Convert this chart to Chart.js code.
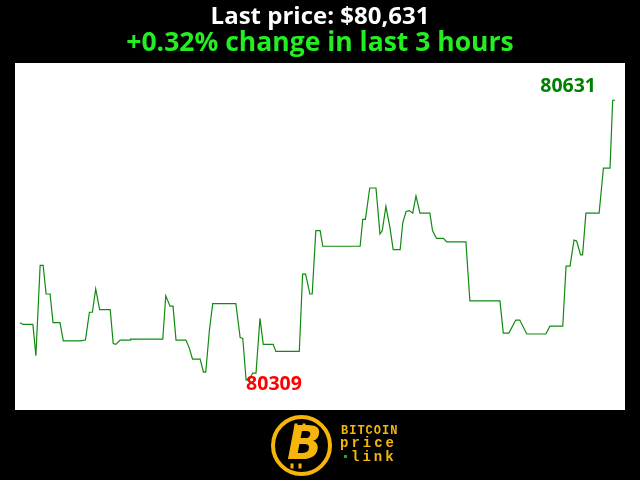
<!DOCTYPE html>
<html>
<head>
<meta charset="utf-8">
<title>Bitcoin price, last 3 hours</title>
<script src="https://cdn.jsdelivr.net/npm/chart.js@4.4.1/dist/chart.umd.min.js"></script>
<style>
  html, body { margin: 0; padding: 0; background: #000; }
  #wrap { width: 640px; height: 480px; position: relative; }
</style>
</head>
<body>
<div id="wrap"><canvas id="chart" width="640" height="480"></canvas></div>
<script>
// ===== Data (minutes since start, price in USD) =====
const minutes = [
  0, 0.9, 3.9, 4.8, 6.1, 7.0, 7.9, 9.1, 10.0, 12.1,
  13.1, 18.2, 19.8, 21.0, 21.9, 22.9, 24.1, 27.3, 28.2, 29.0,
  30.3, 33.3, 33.5, 43.2, 44.1, 45.4, 46.3, 47.2, 50.2, 51.2,
  52.2, 54.5, 55.5, 56.2, 57.3, 58.3, 65.3, 66.6, 67.4, 68.4,
  69.4, 70.4, 71.4, 72.6, 73.6, 76.6, 77.4, 84.5, 85.5, 86.4,
  87.7, 88.4, 89.5, 90.8, 91.6, 102.9, 103.7, 104.5, 105.8, 107.7,
  108.9, 109.6, 110.7, 111.9, 112.9, 115.0, 115.8, 116.8, 117.8, 118.8,
  119.8, 121.0, 124.0, 124.8, 126.0, 128.1, 129.1, 134.9, 136.1, 145.2,
  146.2, 147.9, 150.0, 151.2, 153.3, 159.1, 160.3, 164.2, 165.2, 166.4,
  167.6, 168.4, 169.6, 170.2, 171.2, 175.2, 176.5, 178.5, 179.3, 180
];
const prices = [
  80375, 80373, 80373, 80337, 80441, 80441, 80408, 80408, 80375, 80375,
  80354, 80354, 80355, 80387, 80387, 80414, 80390, 80390, 80351, 80350,
  80355, 80355, 80356, 80356, 80406, 80394, 80394, 80355, 80355, 80346,
  80333, 80333, 80318, 80318, 80366, 80397, 80397, 80358, 80357, 80309,
  80310, 80317, 80317, 80380, 80350, 80350, 80342, 80342, 80431, 80431,
  80408, 80408, 80481, 80481, 80463, 80463, 80494, 80494, 80530, 80530,
  80477, 80481, 80509, 80485, 80459, 80459, 80490, 80503, 80504, 80501,
  80521, 80501, 80501, 80481, 80472, 80472, 80468, 80468, 80400, 80400,
  80363, 80363, 80378, 80378, 80362, 80362, 80371, 80371, 80440, 80440,
  80470, 80469, 80453, 80453, 80501, 80501, 80553, 80553, 80631, 80631
];
const titleText = "Last price: $80,631";
const subtitleText = "+0.32% change in last 3 hours";
const logoLines = ["BITCOIN", "price", "link"];

const points = minutes.map((m, i) => ({ x: m, y: prices[i] }));
const lastIdx = prices.length - 1;
const minIdx = prices.indexOf(Math.min(...prices));

// ===== Plugins =====
const plotBg = {
  id: 'plotBg',
  beforeDraw(chart) {
    const { ctx, chartArea: a } = chart;
    ctx.save();
    ctx.fillStyle = '#000';
    ctx.fillRect(0, 0, chart.width, chart.height);
    ctx.fillStyle = '#fff';
    ctx.fillRect(a.left, a.top, a.right - a.left, a.bottom - a.top);
    ctx.restore();
  }
};

const priceLabels = {
  id: 'priceLabels',
  afterDatasetsDraw(chart) {
    const { ctx } = chart;
    const meta = chart.getDatasetMeta(0);
    const hi = meta.data[lastIdx], lo = meta.data[minIdx];
    ctx.save();
    ctx.font = 'bold 19.5px "Open Sans"';
    ctx.textBaseline = 'alphabetic';
    ctx.fillStyle = '#008000';
    ctx.textAlign = 'right';
    ctx.fillText(String(prices[lastIdx]), hi.x - 19, hi.y - 8);
    ctx.fillStyle = '#ff0000';
    ctx.textAlign = 'left';
    ctx.fillText(String(prices[minIdx]), lo.x, lo.y + 10);
    ctx.restore();
  }
};

const logo = {
  id: 'logo',
  afterDraw(chart) {
    const { ctx } = chart;
    const orange = '#f5b50a';
    const cx = 301.5, cy = 445.5;
    ctx.save();
    // ring
    ctx.strokeStyle = orange;
    ctx.lineWidth = 4;
    ctx.beginPath();
    ctx.arc(cx, cy, 28.5, 0, Math.PI * 2);
    ctx.stroke();
    // slanted B with bars
    ctx.fillStyle = orange;
    ctx.font = 'italic bold 46px "DejaVu Sans"';
    ctx.textAlign = 'center';
    ctx.textBaseline = 'middle';
    ctx.fillText('B', cx + 3, cy + 2);
    ctx.fillRect(cx - 7, cy - 22, 3, 6);
    ctx.fillRect(cx + 1, cy - 22, 3, 6);
    ctx.fillRect(cx - 11, cy + 18, 3, 5);
    ctx.fillRect(cx - 3, cy + 18, 3, 5);
    // text block
    ctx.textAlign = 'left';
    ctx.textBaseline = 'alphabetic';
    ctx.font = 'bold 12px "Liberation Mono"';
    ctx.letterSpacing = '1px';
    ctx.fillText(logoLines[0], 341, 434);
    ctx.font = 'bold 14px "Liberation Mono"';
    ctx.letterSpacing = '3px';
    ctx.fillText(logoLines[1], 340, 447);
    ctx.fillText(logoLines[2], 351, 461);
    ctx.fillStyle = '#1faa1f';
    ctx.fillRect(344, 455, 3, 3);
    ctx.restore();
  }
};

// ===== Chart =====
new Chart(document.getElementById('chart').getContext('2d'), {
  type: 'line',
  data: {
    datasets: [{
      data: points,
      borderColor: '#108a10',
      borderWidth: 1.2,
      pointRadius: 0,
      tension: 0,
      fill: false
    }]
  },
  options: {
    responsive: false,
    animation: false,
    events: [],
    layout: { padding: { left: 15, right: 15, top: 0, bottom: 70 } },
    scales: {
      x: { type: 'linear', display: false, min: -1.51, max: 183.03 },
      y: { type: 'linear', display: false, min: 80274.5, max: 80673.9 }
    },
    plugins: {
      legend: { display: false },
      tooltip: { enabled: false },
      title: {
        display: true,
        text: titleText,
        color: '#ffffff',
        font: { family: '"Open Sans"', size: 24, weight: 'bold', lineHeight: 1.1 },
        padding: { top: 4, bottom: 0 }
      },
      subtitle: {
        display: true,
        text: subtitleText,
        color: '#22ee22',
        font: { family: '"Open Sans"', size: 26.5, weight: 'bold', lineHeight: 1.0 },
        padding: { top: 0, bottom: 6.1 }
      }
    }
  },
  plugins: [plotBg, priceLabels, logo]
});
</script>
</body>
</html>
